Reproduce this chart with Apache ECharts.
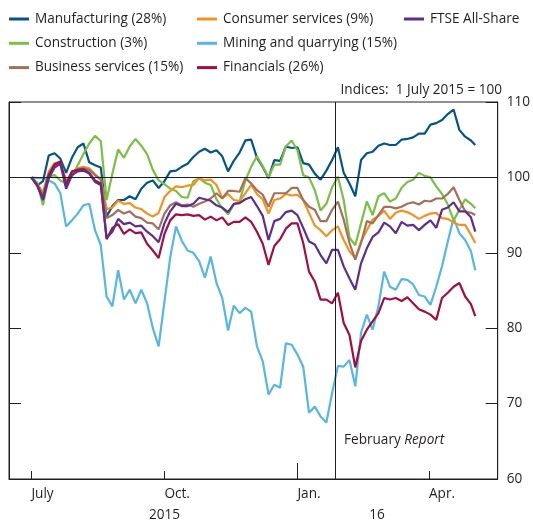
<!DOCTYPE html>
<html>
<head>
<meta charset="UTF-8">
<title>UK equity prices by sector</title>
<style>
    html, body { margin: 0; padding: 0; background: #fff; }
    #main { width: 533px; height: 523px; }
</style>
</head>
<body>
<div id="main"></div>
<script src="https://cdn.jsdelivr.net/npm/echarts@6/dist/echarts.min.js"></script>
<script>
// sampled every 4 days from 1 July 2015 (index, 1 July 2015 = 100)
var dates = [
    '2015-07-01','2015-07-05','2015-07-09','2015-07-13','2015-07-17','2015-07-21','2015-07-25','2015-07-29','2015-08-02','2015-08-06',
    '2015-08-10','2015-08-14','2015-08-18','2015-08-22','2015-08-26','2015-08-30','2015-09-03','2015-09-07','2015-09-11','2015-09-15',
    '2015-09-19','2015-09-23','2015-09-27','2015-10-01','2015-10-05','2015-10-09','2015-10-13','2015-10-17','2015-10-21','2015-10-25',
    '2015-10-29','2015-11-02','2015-11-06','2015-11-10','2015-11-14','2015-11-18','2015-11-22','2015-11-26','2015-11-30','2015-12-04',
    '2015-12-08','2015-12-12','2015-12-16','2015-12-20','2015-12-24','2015-12-28','2016-01-01','2016-01-05','2016-01-09','2016-01-13',
    '2016-01-17','2016-01-21','2016-01-25','2016-01-29','2016-02-02','2016-02-06','2016-02-10','2016-02-14','2016-02-18','2016-02-22',
    '2016-02-26','2016-03-01','2016-03-05','2016-03-09','2016-03-13','2016-03-17','2016-03-21','2016-03-25','2016-03-29','2016-04-02',
    '2016-04-06','2016-04-10','2016-04-14','2016-04-18','2016-04-22','2016-04-26','2016-04-30','2016-05-03'
];
var manufacturing = [
    100, 98.9, 99.5, 102.9, 103.2, 102.5, 100.6, 102.6, 104.0, 104.5,
    102.0, 101.6, 101.3, 94.8, 96.2, 97.0, 97.0, 97.5, 97.1, 98.5,
    99.3, 99.6, 98.6, 99.5, 100.8, 100.9, 101.4, 101.8, 102.7, 103.4,
    103.8, 103.3, 103.6, 102.8, 100.8, 102.2, 103.3, 104.9, 105.0, 102.6,
    101.4, 99.9, 102.3, 102.2, 104.1, 103.9, 104.0, 101.9, 101.7, 100.5,
    99.7, 100.9, 102.3, 104.0, 100.6, 99.2, 97.5, 102.3, 103.2, 103.4,
    104.2, 104.5, 104.3, 104.3, 105.0, 105.1, 105.3, 105.8, 105.8, 107.0,
    107.2, 107.6, 108.4, 109.0, 106.3, 105.4, 104.9, 104.3
];
var construction = [
    100, 99.3, 96.3, 100.1, 100.3, 99.6, 99.2, 100.1, 101.6, 103.1,
    104.5, 105.5, 104.8, 97.0, 100.5, 103.7, 102.6, 104.1, 105.1, 104.2,
    103.1, 101.0, 99.6, 99.1, 98.5, 98.2, 97.4, 97.3, 99.5, 99.9,
    99.3, 99.0, 97.1, 95.9, 95.1, 96.4, 96.8, 99.6, 101.4, 102.8,
    101.5, 100.0, 101.7, 101.7, 104.1, 104.9, 103.6, 100.3, 100.0, 98.3,
    95.6, 96.5, 98.7, 100.1, 97.0, 92.0, 91.0, 93.9, 96.8, 95.0,
    97.5, 97.9, 96.8, 97.2, 98.6, 99.4, 99.7, 100.6, 100.2, 100.0,
    98.8, 97.8, 96.4, 94.3, 95.7, 97.1, 96.5, 95.9
];
var business = [
    100, 99.0, 97.7, 100.5, 101.6, 101.9, 99.3, 100.7, 101.1, 101.2,
    101.0, 100.3, 99.7, 94.6, 95.0, 95.7, 95.2, 95.5, 94.8, 94.6,
    94.0, 93.9, 93.1, 95.2, 96.3, 96.7, 96.3, 96.4, 96.1, 96.5,
    96.8, 97.2, 97.9, 97.2, 98.2, 98.2, 98.1, 99.9, 99.2, 98.3,
    97.7, 96.1, 97.9, 97.9, 97.9, 98.6, 98.6, 97.0, 96.1, 95.7,
    94.2, 94.2, 95.7, 96.8, 94.4, 91.3, 89.1, 91.3, 94.2, 93.9,
    95.0, 96.1, 96.1, 95.9, 96.1, 96.5, 96.7, 96.4, 96.9, 96.8,
    97.2, 97.2, 97.8, 98.7, 97.0, 95.5, 95.3, 95.0
];
var consumer = [
    100, 99.2, 98.0, 100.8, 101.9, 102.0, 99.6, 100.6, 101.2, 101.4,
    101.2, 100.4, 99.8, 95.8, 96.0, 96.9, 96.5, 96.6, 96.0, 95.8,
    95.2, 94.8, 95.3, 97.4, 98.2, 98.8, 98.7, 98.9, 99.0, 99.9,
    99.6, 99.7, 99.0, 97.3, 97.8, 97.0, 96.9, 97.9, 99.0, 97.8,
    97.1, 95.2, 97.0, 97.2, 97.8, 97.6, 97.7, 97.0, 95.3, 93.6,
    93.0, 92.2, 93.0, 93.5, 91.7, 90.2, 89.3, 91.5, 93.0, 94.4,
    94.9, 95.6, 94.5, 95.3, 95.6, 95.4, 95.0, 94.5, 94.9, 95.2,
    95.3, 94.6, 94.5, 94.0, 93.7, 93.7, 92.4, 91.3
];
var mining = [
    100, 99.9, 99.9, 99.6, 99.2, 97.9, 93.5, 94.3, 95.2, 96.3,
    96.5, 93.0, 91.0, 84.2, 82.9, 87.7, 83.8, 85.1, 83.3, 85.1,
    83.3, 80.0, 77.6, 83.5, 89.4, 93.5, 91.6, 90.3, 90.0, 88.9,
    86.7, 89.5, 86.0, 84.0, 79.7, 83.0, 82.0, 82.7, 82.2, 77.6,
    75.6, 71.2, 72.5, 72.1, 78.0, 77.8, 76.5, 74.9, 68.8, 69.6,
    68.3, 67.5, 71.4, 75.0, 74.9, 75.8, 72.3, 79.4, 81.8, 79.8,
    82.9, 87.5, 85.5, 85.1, 86.5, 86.4, 85.8, 84.4, 84.2, 83.1,
    85.5, 88.2, 91.5, 94.6, 92.6, 91.7, 90.2, 87.7
];
var financials = [
    100, 98.9, 97.2, 100.3, 101.7, 102.1, 99.0, 100.8, 101.0, 101.1,
    100.6, 99.6, 99.2, 91.8, 93.3, 93.8, 92.5, 93.1, 92.6, 92.7,
    91.2, 90.3, 89.3, 92.5, 94.3, 95.1, 95.0, 95.1, 94.9, 95.0,
    94.4, 94.8, 94.3, 94.7, 93.7, 94.1, 94.1, 94.7, 94.1, 92.8,
    91.2, 88.4, 90.9, 91.8, 93.2, 93.9, 93.9, 91.3, 87.5, 86.2,
    83.8, 83.8, 83.3, 84.7, 80.7, 79.1, 74.8, 78.3, 79.8, 80.9,
    82.0, 84.0, 83.8, 84.0, 83.6, 84.1, 83.3, 82.5, 82.2, 81.8,
    81.1, 84.0, 84.7, 85.5, 86.0, 84.2, 83.2, 81.6
];
var ftse = [
    100, 99.0, 97.0, 99.9, 101.3, 101.8, 98.5, 100.3, 100.8, 100.9,
    100.5, 99.4, 99.0, 92.0, 92.8, 94.5, 93.8, 94.0, 93.5, 93.6,
    92.8, 92.2, 91.4, 93.9, 95.5, 96.5, 96.2, 96.2, 96.5, 97.3,
    97.1, 96.9, 96.3, 96.0, 95.4, 96.5, 96.6, 97.1, 97.4, 96.2,
    94.9, 91.7, 94.2, 94.5, 95.4, 95.6, 95.0, 93.3, 91.5, 91.1,
    89.7, 88.6, 90.4, 90.4, 88.2, 86.6, 85.1, 88.6, 90.6, 92.1,
    92.7, 94.0, 93.5, 92.6, 94.1, 93.6, 93.7, 93.0, 93.7, 94.3,
    93.3, 95.7, 96.0, 96.7, 95.5, 95.5, 94.7, 92.8
];

var monthTicks = ['2015-07-01', '2015-10-01', '2016-01-01', '2016-04-01'];
var monthNames = ['July', 'Oct.', 'Jan.', 'Apr.'];
var yearTicks = ['2015-10-01', '2016-02-25'];
var yearNames = ['2015', '16'];
var reportDate = '2016-01-27';

var FONT = '"Open Sans", sans-serif';
var FS = 13.6;
var INK = '#231f20';
var DAY = 86400000;

function toTime(s) {
    var p = s.split('-');
    return Date.UTC(+p[0], +p[1] - 1, +p[2]);
}
function pairs(vals) {
    return dates.map(function (d, i) { return [toTime(d), vals[i]]; });
}
function labelFor(list, names) {
    return function (v) {
        for (var i = 0; i < list.length; i++) {
            if (Math.abs(toTime(list[i]) - v) < DAY / 2) return names[i];
        }
        return '';
    };
}

// plot spans mid-June 2015 to mid-May 2016
var xMin = toTime('2015-06-15') + DAY / 2;
var xMax = toTime('2016-05-18') + DAY / 2;

var seriesDefs = [
    {name: 'Mining and quarrying (15%)', color: '#56b6e6', data: mining},
    {name: 'Manufacturing (28%)', color: '#02558b', data: manufacturing},
    {name: 'Construction (3%)', color: '#7ac043', data: construction},
    {name: 'Consumer services (9%)', color: '#f6901e', data: consumer},
    {name: 'Business services (15%)', color: '#a5705a', data: business},
    {name: 'Financials (26%)', color: '#a50d40', data: financials},
    {name: 'FTSE All-Share', color: '#5e2d91', data: ftse}
];

var series = seriesDefs.map(function (s, i) {
    var o = {
        name: s.name,
        type: 'line',
        xAxisIndex: 0,
        yAxisIndex: 1,
        data: pairs(s.data),
        showSymbol: false,
        symbol: 'none',
        color: s.color,
        lineStyle: {color: s.color, width: 2.2},
        emphasis: {disabled: true}
    };
    if (i === 0) {
        // 100 line and February Report cut-off
        o.markLine = {
            silent: true,
            symbol: 'none',
            label: {show: false},
            lineStyle: {color: INK, width: 1, type: 'solid'},
            data: [{yAxis: 100}, {xAxis: toTime(reportDate)}]
        };
    }
    return o;
});

var legendBase = {
    orient: 'vertical',
    top: 11,
    padding: 0,
    icon: 'rect',
    itemWidth: 20,
    itemHeight: 3,
    itemGap: 8.3,
    selectedMode: false,
    textStyle: {fontFamily: FONT, fontSize: FS, color: INK, lineHeight: 16, padding: [0, 0, 0, 1]}
};
function legendAt(left, names) {
    return Object.assign({}, legendBase, {left: left, data: names});
}

var myChart = echarts.init(document.getElementById('main'));
var option = {
    animation: false,
    backgroundColor: '#fff',
    legend: [
        legendAt(9, ['Manufacturing (28%)', 'Construction (3%)', 'Business services (15%)']),
        legendAt(197, ['Consumer services (9%)', 'Mining and quarrying (15%)', 'Financials (26%)']),
        legendAt(404, ['FTSE All-Share'])
    ],
    grid: {
        left: 9, right: 31, top: 102, bottom: 44,
        show: true, borderColor: INK, borderWidth: 1, backgroundColor: 'transparent'
    },
    xAxis: [
        {
            type: 'value', position: 'bottom', min: xMin, max: xMax,
            axisLine: {show: true, lineStyle: {color: INK, width: 1}},
            axisTick: {show: true, inside: true, length: 8, lineStyle: {color: INK},
                customValues: monthTicks.map(toTime)},
            axisLabel: {show: true, align: 'left', margin: 8, color: INK, fontFamily: FONT, fontSize: FS,
                customValues: monthTicks.map(toTime), formatter: labelFor(monthTicks, monthNames)},
            splitLine: {show: false}
        },
        {
            type: 'value', position: 'bottom', min: xMin, max: xMax,
            axisLine: {show: false},
            axisTick: {show: true, inside: true, length: 16, lineStyle: {color: INK},
                customValues: [toTime('2016-01-01')]},
            axisLabel: {show: true, align: 'center', margin: 29, color: INK, fontFamily: FONT, fontSize: FS,
                customValues: yearTicks.map(toTime), formatter: labelFor(yearTicks, yearNames)},
            splitLine: {show: false}
        }
    ],
    yAxis: [
        {
            type: 'value', position: 'left', min: 60, max: 110, interval: 10,
            axisLine: {show: true, lineStyle: {color: INK}},
            axisTick: {show: true, inside: true, length: 12, lineStyle: {color: INK}},
            axisLabel: {show: false},
            splitLine: {show: false}
        },
        {
            type: 'value', position: 'right', min: 60, max: 110, interval: 10,
            axisLine: {show: true, lineStyle: {color: INK}},
            axisTick: {show: true, inside: true, length: 12, lineStyle: {color: INK}},
            axisLabel: {show: true, margin: 9, color: INK, fontFamily: FONT, fontSize: FS},
            splitLine: {show: false}
        }
    ],
    graphic: [
        {
            type: 'text', right: 31, top: 83,
            style: {text: 'Indices:  1 July 2015 = 100', fill: INK, font: FS + 'px ' + FONT}
        },
        {
            type: 'text', left: 344, top: 433,
            style: {
                text: '{a|February }{b|Report}',
                rich: {
                    a: {fill: INK, fontFamily: FONT, fontSize: FS},
                    b: {fill: INK, fontFamily: FONT, fontSize: FS, fontStyle: 'italic'}
                }
            }
        }
    ],
    series: series
};
myChart.setOption(option);
</script>
</body>
</html>
